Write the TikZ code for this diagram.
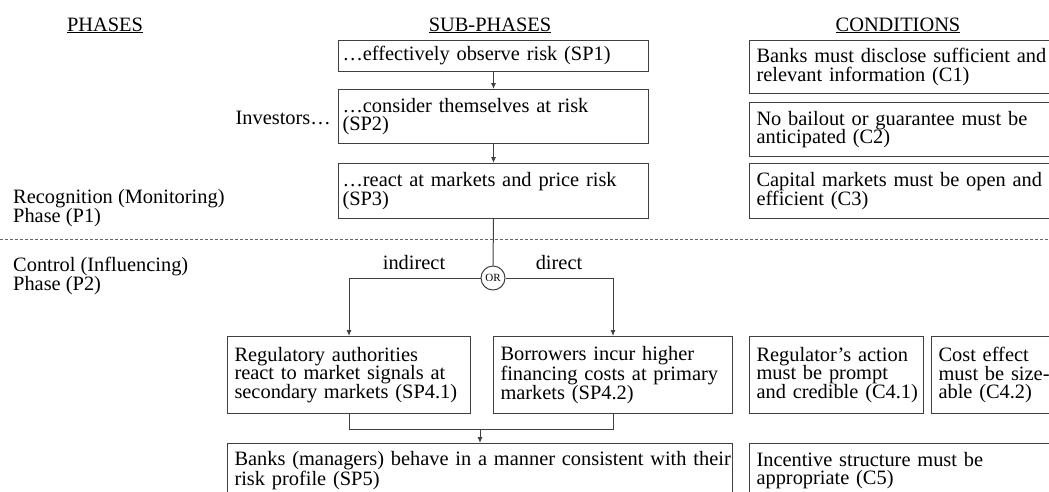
\documentclass[tikz,border=0pt]{standalone}
\usepackage{fontspec}
\setmainfont{Liberation Serif}
\usetikzlibrary{arrows.meta,positioning}
\setlength{\lineskiplimit}{-100pt}

\begin{document}
\begin{tikzpicture}[
    x=1pt, y=-1pt,
    every node/.style={font=\fontsize{20.4}{18.6}\selectfont},
    box/.style={rectangle, draw=black!75, line width=1pt, anchor=north west, align=left, inner xsep=7pt, inner ysep=0pt},
    subbox/.style={box, inner xsep=4pt, text width=302pt},
    heading/.style={anchor=base, inner sep=0pt},
    phase/.style={anchor=base west, align=left, inner sep=0pt},
    arrow/.style={-{Latex[length=6pt,width=5pt]}, line width=1pt, draw=black!75},
    wire/.style={line width=1pt, draw=black!75}
]
    \clip (0,0) rectangle (1049,491);
    \fill[white] (0,0) rectangle (1049,491);

    % Column headings
    \node[heading] (hphases) at (105,31) {\underline{PHASES}};
    \node[heading] (hsub) at (490,31) {\underline{SUB-PHASES}};
    \node[heading] (hcond) at (898,31) {\underline{CONDITIONS}};

    % Recognition sub-phases
    \node[subbox, minimum height=31pt] (sp1) at (338,40) {…effectively observe risk (SP1)};
    \node[subbox, minimum height=54pt] (sp2) at (338,89) {…consider themselves at risk\\(SP2)};
    \node[subbox, minimum height=55pt] (sp3) at (338,163) {…react at markets and price risk\\(SP3)};
    \node[anchor=base east, inner sep=0pt] (investors) at (331,124) {Investors…};

    % Conditions for P1
    \node[box, text width=330pt, minimum height=53pt] (c1) at (749,40) {Banks must disclose sufficient and\\relevant information (C1)};
    \node[box, text width=330pt, minimum height=54pt] (c2) at (749,102) {No bailout or guarantee must be\\anticipated (C2)};
    \node[box, text width=330pt, minimum height=55pt] (c3) at (749,163) {Capital markets must be open and\\efficient (C3)};

    % Phases
    \node[phase] (p1) at (13,222) {Recognition (Monitoring)\\Phase (P1)};
    \node[phase] (p2) at (13,290) {Control (Influencing)\\Phase (P2)};
    \draw[black!60, line width=0.8pt, dash pattern=on 3pt off 2pt] (0,239) -- (1049,239);

    % Control sub-phases
    \node[circle, draw=black!75, line width=1pt, inner sep=0pt, minimum size=24pt, font=\fontsize{11}{11}\selectfont] (orjoin) at (493,278) {OR};
    \node[heading] (indirect) at (414,269) {indirect};
    \node[heading] (direct) at (559,269) {direct};
    \node[box, text width=229pt, minimum height=77pt] (sp41) at (227,336) {Regulatory authorities\\react to market signals at\\secondary markets (SP4.1)};
    \node[box, text width=225pt, minimum height=77pt] (sp42) at (493,336) {Borrowers incur higher\\financing costs at primary\\markets (SP4.2)};
    \node[box, text width=160pt, minimum height=77pt] (c41) at (749,336) {Regulator’s action\\must be prompt\\\mbox{and credible (C4.1)}};
    \node[box, text width=140pt, minimum height=77pt] (c42) at (931,336) {Cost effect\\must be size-\\able (C4.2)};
    \node[box, text width=491pt, minimum height=54pt] (sp5) at (227,443) {\mbox{Banks (managers) behave in a manner consistent with their}\\risk profile (SP5)};
    \node[box, text width=330pt, minimum height=54pt] (c5) at (749,443) {Incentive structure must be\\appropriate (C5)};

    % Connections
    \draw[arrow] (sp1.south) -- (sp2.north);
    \draw[arrow] (sp2.south) -- (sp3.north);
    \draw[wire] (sp3.south) -- (orjoin.north);
    \draw[arrow] (orjoin.west) -| (sp41.north);
    \draw[arrow] (orjoin.east) -| (sp42.north);
    \draw[wire] (sp41.south) -- ++(0,15) coordinate (merge) -| (sp42.south);
    \draw[arrow] (merge -| sp5.north) -- (sp5.north);
\end{tikzpicture}
\end{document}
